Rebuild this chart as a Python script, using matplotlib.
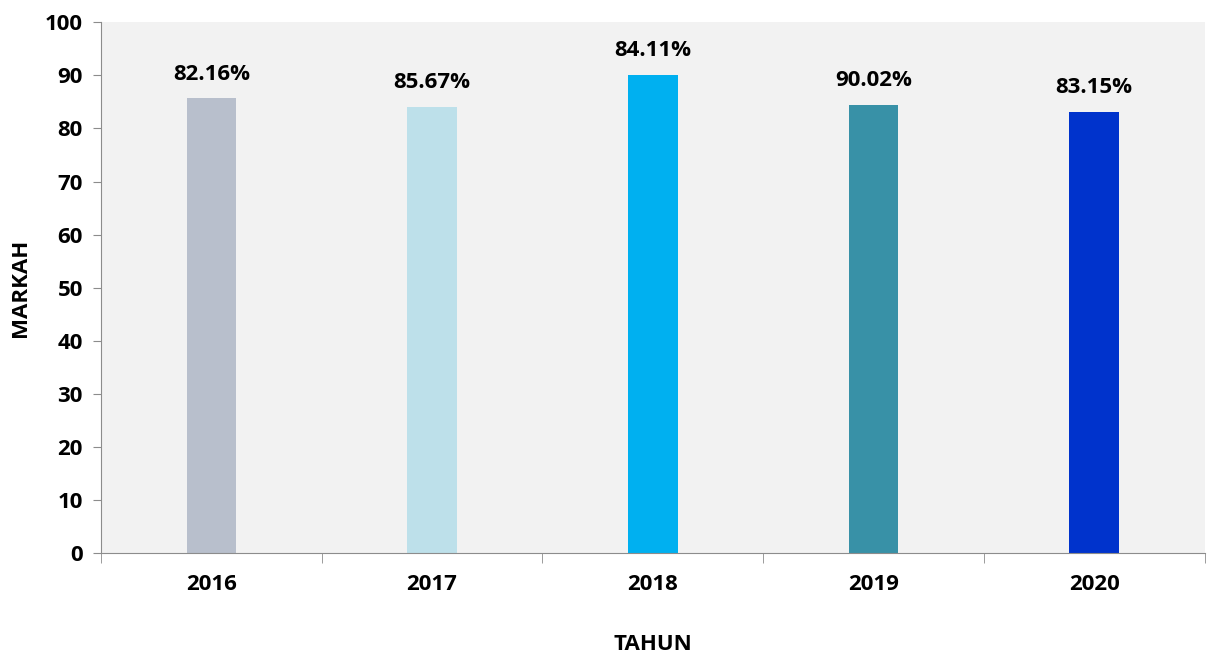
import matplotlib
matplotlib.use("Agg")
import matplotlib.pyplot as plt
import numpy as np

years = ["2016", "2017", "2018", "2019", "2020"]
bar_values = [85.67, 84.11, 90.02, 84.4, 83.15]
bar_labels = ["82.16%", "85.67%", "84.11%", "90.02%", "83.15%"]
colors = ["#B8BFCC", "#BDE0EA", "#00B0F0", "#3891A7", "#0033CC"]

plt.rcParams['font.family'] = ['Open Sans', 'DejaVu Sans']
plt.rcParams['font.weight'] = 'bold'

fig = plt.figure(figsize=(12.07, 6.56), dpi=100)
ax = fig.add_axes([0.0837, 0.157, 0.9143, 0.809])
ax.set_facecolor("#F2F2F2")

x = np.arange(len(years))
ax.bar(x, bar_values, width=0.225, color=colors, zorder=2)

# value labels sit above each bar
for xi, v, lab in zip(x, bar_values, bar_labels):
    ax.annotate(lab, (xi, v), xytext=(0, 17.5), textcoords="offset points",
                ha="center", va="center", fontsize=16, fontweight="bold")

ax.set_xlim(-0.5, len(years) - 0.5)
ax.set_ylim(0, 100)
ax.set_yticks(np.arange(0, 101, 10))
ax.set_xticks(x)
ax.set_xticklabels(years)
ax.set_xticks(np.arange(-0.5, len(years), 1), minor=True)

for s in ["top", "right"]:
    ax.spines[s].set_visible(False)
for s in ["left", "bottom"]:
    ax.spines[s].set_color("#8C8C8C")

ax.tick_params(axis="y", length=6, color="#8C8C8C", labelsize=16, pad=7)
ax.tick_params(axis="x", which="major", length=0, labelsize=16, pad=15)
ax.tick_params(axis="x", which="minor", length=7, color="#8C8C8C")

for t in ax.get_xticklabels() + ax.get_yticklabels():
    t.set_fontweight("bold")

ax.set_ylabel("MARKAH", fontsize=16, fontweight="bold", labelpad=10)
ax.set_xlabel("TAHUN", fontsize=16, fontweight="bold", labelpad=28)

fig.savefig("out.png", dpi=100)
